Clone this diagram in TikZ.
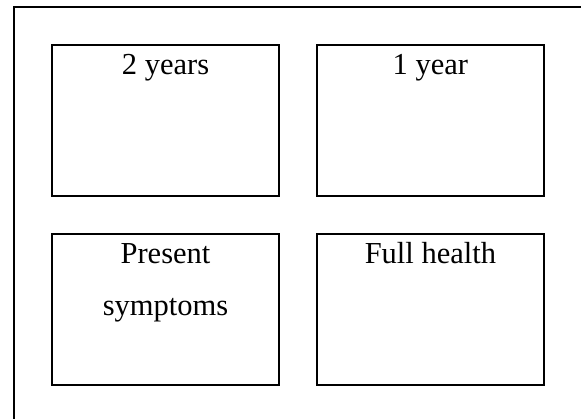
\documentclass[tikz,border=0pt]{standalone}
\usepackage{fontspec}
\setmainfont{Liberation Serif}
\begin{document}
\begin{tikzpicture}[x=1pt,y=-1pt,
  panel/.style={draw=black, line width=2pt, rectangle, inner sep=0pt, outer sep=0pt,
                minimum width=227pt, minimum height=151pt},
  caption/.style={anchor=base, inner sep=0pt, font=\fontsize{30.5}{36}\selectfont},
  frame/.style={draw=black, line width=2pt}]
  \useasboundingbox (0,0) rectangle (581,419);
  % surrounding frame (only its top and left sides fall inside the page)
  \coordinate (fbl) at (14.3,419);
  \coordinate (ftl) at (14.3,6.8);
  \coordinate (ftr) at (581,6.8);
  \draw[frame] (fbl) -- (ftl) -- (ftr);
  % the four panels
  \node[panel] (tl) at (165.5,120.1) {};
  \node[panel] (tr) at (430.1,120.1) {};
  \node[panel] (bl) at (165.5,309.25) {};
  \node[panel] (br) at (430.1,309.25) {};
  % captions
  \node[caption] (ttl) at (165.5,75) {2 years};
  \node[caption] (ttr) at (430.4,75) {1 year};
  \node[caption] (tbl1) at (165.5,263.3) {Present};
  \node[caption] (tbl2) at (165.5,315.5) {symptoms};
  \node[caption] (tbr) at (430.4,263.3) {Full health};
\end{tikzpicture}
\end{document}
